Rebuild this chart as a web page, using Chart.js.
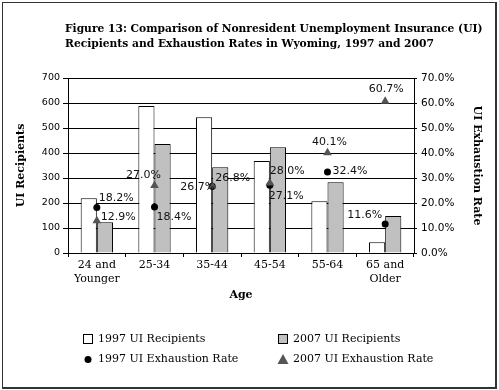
<!DOCTYPE html>
<html><head><meta charset="utf-8">
<script src="https://cdn.jsdelivr.net/npm/chart.js@4.4.1/dist/chart.umd.min.js"></script>
<style>html,body{margin:0;padding:0;background:#fff}#wrap{width:499px;height:390px;position:relative}</style>
</head><body><div id="wrap"><canvas id="c" width="499" height="390"></canvas></div>
<script>
// ---- data ----
const categories = [['24 and','Younger'], '25-34', '35-44', '45-54', '55-64', ['65 and','Older']];
const recipients1997 = [219, 588, 543, 368, 207, 43];
const recipients2007 = [123, 436, 343, 423, 283, 148];
const exhaustion1997 = [18.2, 18.4, 26.7, 27.1, 32.4, 11.6];
const exhaustion2007 = [12.9, 27.0, 26.8, 28.0, 40.1, 60.7];
const seriesNames = ['1997 UI Recipients', '2007 UI Recipients', '1997 UI Exhaustion Rate', '2007 UI Exhaustion Rate'];
const titleLines = ['Figure 13: Comparison of Nonresident Unemployment Insurance (UI)', 'Recipients and Exhaustion Rates in Wyoming, 1997 and 2007'];

// ---- label placement (style only) ----
const labelPlace1997 = [[2,-9,'left'],[2,10,'left'],[3,1,'right'],[-1,11,'left'],[5,-1,'left'],[-3,-9,'right']];
const labelPlace2007 = [[4,-4,'left'],[-11,-10,'center'],[3,-8,'left'],[0,-12,'left'],[2,-11,'center'],[1,-12,'center']];

const SERIF = 'DejaVu Serif';
const SANS = 'DejaVu Sans';
const GRAY = '#c0c0c0';
const TRI = '#555555';

const framePlugin = {
  id: 'frame',
  beforeDraw(chart) {
    const ctx = chart.ctx;
    ctx.save();
    ctx.fillStyle = '#fff';
    ctx.fillRect(0, 0, chart.width, chart.height);
    ctx.fillStyle = '#333';
    ctx.fillRect(2, 2, 495, 1);
    ctx.fillRect(2, 2, 1, 387);
    ctx.fillRect(495, 2, 2, 387);
    ctx.fillRect(2, 387, 495, 2);
    ctx.restore();
  },
  afterDraw(chart) {
    const ctx = chart.ctx;
    ctx.save();
    // title
    ctx.fillStyle = '#000';
    ctx.font = 'bold 10.7px "' + SERIF + '"';
    ctx.textBaseline = 'middle';
    ctx.textAlign = 'left';
    ctx.fillText(titleLines[0], 65, 29);
    ctx.fillText(titleLines[1], 65, 44);
    // legend
    ctx.font = '11px "' + SERIF + '"';
    const cols = [83, 278], rows = [339, 359];
    const items = [
      {c:0, r:0, kind:'box', fill:'#fff'},
      {c:1, r:0, kind:'box', fill:GRAY},
      {c:0, r:1, kind:'dot'},
      {c:1, r:1, kind:'tri'}
    ];
    items.forEach((it, i) => {
      const x = cols[it.c], y = rows[it.r];
      ctx.lineWidth = 1;
      if (it.kind === 'box') {
        ctx.fillStyle = it.fill;
        ctx.fillRect(x + 0.5, y - 4.5, 9, 9);
        ctx.strokeStyle = '#000';
        ctx.strokeRect(x + 0.5, y - 4.5, 9, 9);
      } else if (it.kind === 'dot') {
        ctx.fillStyle = '#000';
        ctx.beginPath(); ctx.arc(x + 5, y + 0.5, 3.5, 0, Math.PI * 2); ctx.fill();
      } else {
        ctx.fillStyle = TRI;
        ctx.beginPath(); ctx.moveTo(x + 5, y - 5); ctx.lineTo(x + 10.5, y + 5); ctx.lineTo(x - 0.5, y + 5); ctx.closePath(); ctx.fill();
      }
      ctx.fillStyle = '#000';
      ctx.fillText(seriesNames[i], x + 15, y);
    });
    ctx.restore();
  }
};

const pointLabelPlugin = {
  id: 'pointLabels',
  afterDatasetsDraw(chart) {
    const ctx = chart.ctx;
    ctx.save();
    ctx.font = '11px "' + SANS + '"';
    ctx.fillStyle = '#111';
    ctx.textBaseline = 'middle';
    [[2, exhaustion1997, labelPlace1997], [3, exhaustion2007, labelPlace2007]].forEach(([di, vals, place]) => {
      const meta = chart.getDatasetMeta(di);
      meta.data.forEach((pt, i) => {
        const [dx, dy, al] = place[i];
        ctx.textAlign = al;
        ctx.fillText(vals[i].toFixed(1) + '%', pt.x + dx, pt.y + dy);
      });
    });
    ctx.restore();
  }
};

new Chart(document.getElementById('c'), {
  type: 'bar',
  data: {
    labels: categories,
    datasets: [
      {label: seriesNames[0], data: recipients1997, backgroundColor: '#fff', borderColor: '#000', borderWidth: 1, yAxisID: 'y', order: 2, categoryPercentage: 0.56, barPercentage: 1},
      {label: seriesNames[1], data: recipients2007, backgroundColor: GRAY, borderColor: '#000', borderWidth: 1, yAxisID: 'y', order: 3, categoryPercentage: 0.56, barPercentage: 1},
      {type: 'line', label: seriesNames[2], data: exhaustion1997, showLine: false, yAxisID: 'y1', order: 1, pointStyle: 'circle', pointRadius: 3.5, backgroundColor: '#000', borderColor: '#000', borderWidth: 0},
      {type: 'line', label: seriesNames[3], data: exhaustion2007, showLine: false, yAxisID: 'y1', order: 0, pointStyle: 'triangle', pointRadius: 5, backgroundColor: TRI, borderColor: TRI, borderWidth: 0}
    ]
  },
  options: {
    responsive: false,
    animation: false,
    devicePixelRatio: 1,
    layout: {padding: {top: 78, left: 10, right: 12, bottom: 88}},
    plugins: {legend: {display: false}, tooltip: {enabled: false}, title: {display: false}},
    scales: {
      x: {
        offset: true,
        grid: {offset: true, drawOnChartArea: false, drawTicks: true, tickLength: 4, color: '#000'},
        border: {color: '#000'},
        ticks: {font: {family: SERIF, size: 11}, color: '#000', padding: 2, maxRotation: 0, autoSkip: false},
        title: {display: true, text: 'Age', font: {family: SERIF, size: 11, weight: 'bold'}, color: '#000', padding: {top: 2, bottom: 0}},
        afterFit(s) { s.height = 49; }
      },
      y: {
        position: 'left', min: 0, max: 700,
        ticks: {stepSize: 100, font: {family: SANS, size: 9.5}, color: '#000', padding: 3},
        grid: {color: '#000', tickLength: 5},
        border: {color: '#000'},
        title: {display: true, text: 'UI Recipients', font: {family: SERIF, size: 11, weight: 'bold'}, color: '#000', padding: {top: 5, bottom: 0}},
        afterFit(s) { s.width = 58; }
      },
      y1: {
        position: 'right', min: 0, max: 70,
        ticks: {stepSize: 10, callback: v => v.toFixed(1) + '%', font: {family: SANS, size: 10.5}, color: '#000', padding: 4},
        grid: {drawOnChartArea: false, color: '#000', tickLength: 3},
        border: {color: '#000'},
        title: {display: true, text: 'UI Exhaustion Rate', font: {family: SERIF, size: 11, weight: 'bold'}, color: '#000', padding: {top: 4, bottom: 0}},
        afterFit(s) { s.width = 73; }
      }
    }
  },
  plugins: [framePlugin, pointLabelPlugin]
});
</script>
</body></html>
